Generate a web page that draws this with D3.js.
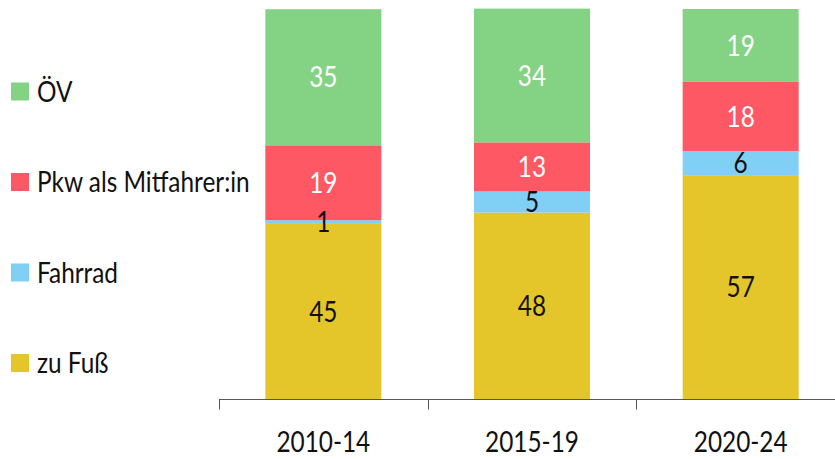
<!DOCTYPE html>
<html>
<head>
<meta charset="utf-8">
<script src="https://cdn.jsdelivr.net/npm/d3@7"></script>
<style>
  body { margin: 0; background: #fff; }
  text { font-family: Lato, sans-serif; }
</style>
</head>
<body>
<svg width="835" height="459"></svg>
<script>
const periods = ['2010-14', '2015-19', '2020-24'];
const seriesNames = ['zu Fuß', 'Fahrrad', 'Pkw als Mitfahrer:in', 'ÖV'];
const zuFuss = [44.9, 47.8, 57.4];
const fahrrad = [0.95, 5.4, 6.2];
const pkwMitfahrer = [19.2, 12.6, 17.7];
const oev = [34.9, 34.3, 18.7];
const colors = ['#e4c62a', '#80cff4', '#fd5864', '#84d384'];
const labelColors = ['#111', '#111', '#fff', '#fff'];

const svg = d3.select('svg');
const width = +svg.attr('width');
const height = +svg.attr('height');

const fontSize = '28px';
const squeeze = 'scale(0.87,1)';

const margin = { top: 9, right: -10, bottom: 60, left: 219 };
const innerWidth = width - margin.left - margin.right;
const innerHeight = height - margin.top - margin.bottom;

const data = periods.map((p, i) => ({
    period: p,
    'zu Fuß': zuFuss[i],
    'Fahrrad': fahrrad[i],
    'Pkw als Mitfahrer:in': pkwMitfahrer[i],
    'ÖV': oev[i]
}));

const stacked = d3.stack().keys(seriesNames)(data);

const xScale = d3.scaleBand()
    .domain(periods)
    .range([0, innerWidth])
    .padding(0);

const yScale = d3.scaleLinear()
    .domain([0, 100])
    .range([innerHeight, 0]);

const barWidth = xScale.bandwidth() * 0.556;

const g = svg.append('g')
    .attr('transform', `translate(${margin.left},${margin.top})`);

const layers = g.selectAll('g.layer')
    .data(stacked)
    .enter().append('g')
    .attr('class', 'layer')
    .attr('fill', (d, i) => colors[i]);

layers.selectAll('rect')
    .data(d => d)
    .enter().append('rect')
    .attr('x', d => xScale(d.data.period) + (xScale.bandwidth() - barWidth) / 2)
    .attr('y', d => yScale(d[1]))
    .attr('width', barWidth)
    .attr('height', d => yScale(d[0]) - yScale(d[1]));

// value labels on top of all segments
const labelG = g.append('g');
stacked.forEach((layer, i) => {
    labelG.selectAll(null)
        .data(layer)
        .enter().append('text')
        .attr('transform', d => `translate(${xScale(d.data.period) + xScale.bandwidth() / 2},${(yScale(d[0]) + yScale(d[1])) / 2}) ${squeeze}`)
        .attr('dy', '0.36em')
        .attr('text-anchor', 'middle')
        .attr('fill', labelColors[i])
        .style('font-size', fontSize)
        .text(d => Math.round(d[1] - d[0]));
});

// x axis: labels centred, ticks at band edges
const xAxisG = g.append('g')
    .attr('transform', `translate(0,${innerHeight + 0.5})`)
    .call(d3.axisBottom(xScale).tickSize(0).tickPadding(33));

xAxisG.select('.domain')
    .attr('stroke', '#555')
    .attr('d', `M0,0H${innerWidth}`);

xAxisG.selectAll('.tick text')
    .style('font-size', fontSize)
    .style('font-family', 'Lato, sans-serif')
    .attr('transform', squeeze)
    .attr('fill', '#111');

xAxisG.selectAll('line.edge')
    .data(periods)
    .enter().append('line')
    .attr('class', 'edge')
    .attr('x1', d => Math.round(xScale(d)) + 0.5)
    .attr('x2', d => Math.round(xScale(d)) + 0.5)
    .attr('y1', 0)
    .attr('y2', 10)
    .attr('stroke', '#555');

// legend
const legend = svg.append('g')
    .attr('transform', 'translate(11,0)');

const legendOrder = ['ÖV', 'Pkw als Mitfahrer:in', 'Fahrrad', 'zu Fuß'];
const legendY = d3.scalePoint()
    .domain(legendOrder)
    .range([91.5, 363]);

const items = legend.selectAll('g')
    .data(legendOrder)
    .enter().append('g')
    .attr('transform', d => `translate(0,${legendY(d)})`);

items.append('rect')
    .attr('x', 0)
    .attr('y', -9)
    .attr('width', 18)
    .attr('height', 18)
    .attr('fill', d => colors[seriesNames.indexOf(d)]);

items.append('text')
    .attr('transform', `translate(26,0) ${squeeze}`)
    .attr('dy', '0.36em')
    .attr('fill', '#111')
    .style('font-size', fontSize)
    .text(d => d);
</script>
</body>
</html>
